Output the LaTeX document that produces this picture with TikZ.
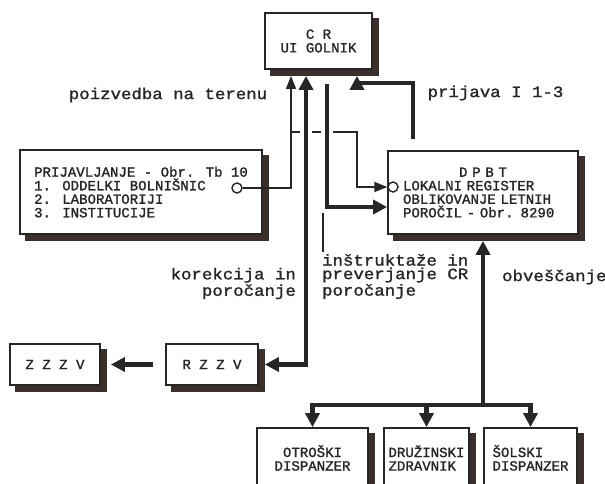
\documentclass[tikz,border=0pt]{standalone}
\usepackage{fontspec}
\usepackage{tikz}
\usetikzlibrary{arrows.meta}
\newfontfamily\boxfont[FakeBold=1.4]{Liberation Mono}
\newfontfamily\lblfont[FakeStretch=1.1,FakeBold=1.4]{Liberation Mono}
\definecolor{ink}{HTML}{262626}
\definecolor{shade}{HTML}{3A2F2A}

\begin{document}
\begin{tikzpicture}[
  box/.style={draw=ink, line width=1pt, fill=white, inner sep=2pt, text=ink,
              font=\boxfont\fontsize{8}{7.7}\selectfont},
  boxshade/.style={draw=shade, line width=1.2mm},
  lbl/.style={font=\lblfont\fontsize{9}{7.7}\selectfont, inner sep=1pt, text=ink},
  port/.style={circle, draw=ink, line width=0.8pt, fill=white,
               minimum size=2mm, inner sep=0pt},
  thn/.style={draw=ink, line width=0.8pt},
  tip/.style={thn, -{Triangle[length=2.6mm,width=2mm]}},
  thk/.style={draw=ink, line width=2.6pt, -{Triangle[length=2.8mm,width=2.8mm]}},
  gap/.style={preaction={draw=white, line width=2.4mm, arrows=-}},
  sh/.style={shorten >=1.2mm}
]
  \useasboundingbox (0,0) rectangle (12.1,-9.68);
  % zgornji del
  \node[box, minimum width=2.14cm, minimum height=1.12cm, align=center]
    (cr) at (6.37,-0.82) {C R\\UI GOLNIK};
  \node[box, minimum width=4.84cm, minimum height=1.68cm, align=left]
    (prij) at (2.82,-3.84) {PRIJAVLJANJE - Obr. Tb 10\\1. ODDELKI BOLNIŠNIC\\2. LABORATORIJI\\3. INSTITUCIJE};
  \node[box, minimum width=3.80cm, minimum height=1.66cm, text width=3.2cm, align=left]
    (dpbt) at (9.66,-3.85) {\hfil D P B T\hfil\\LOKALNI REGISTER\\OBLIKOVANJE LETNIH\\POROČIL - Obr. 8290};
  % spodnji del
  \node[box, minimum width=1.84cm, minimum height=0.82cm] (rzzv) at (4.24,-7.29) {R Z Z V};
  \node[box, minimum width=1.80cm, minimum height=0.82cm] (zzzv) at (1.10,-7.29) {Z Z Z V};
  \node[box, minimum width=2.22cm, minimum height=1.20cm, align=left]
    (otr) at (6.25,-9.16) {\hphantom{D}OTROŠKI\\DISPANZER};
  \node[box, minimum width=1.70cm, minimum height=1.20cm, align=left]
    (dru) at (8.53,-9.16) {DRUŽINSKI\\ZDRAVNIK};
  \node[box, minimum width=1.86cm, minimum height=1.20cm, align=left]
    (sol) at (10.61,-9.16) {ŠOLSKI\\DISPANZER};
  % sence
  \draw[boxshade] ([shift={(0.06,-0.12)}]cr.north east) |- ([shift={(0.12,-0.06)}]cr.south west);
  \draw[boxshade] ([shift={(0.06,-0.12)}]prij.north east) |- ([shift={(0.12,-0.06)}]prij.south west);
  \draw[boxshade] ([shift={(0.06,-0.12)}]dpbt.north east) |- ([shift={(0.12,-0.06)}]dpbt.south west);
  \draw[boxshade] ([shift={(0.06,-0.12)}]rzzv.north east) |- ([shift={(0.12,-0.06)}]rzzv.south west);
  \draw[boxshade] ([shift={(0.06,-0.12)}]zzzv.north east) |- ([shift={(0.12,-0.06)}]zzzv.south west);
  \draw[boxshade] ([shift={(0.06,-0.12)}]otr.north east) |- ([shift={(0.12,-0.06)}]otr.south west);
  \draw[boxshade] ([shift={(0.06,-0.12)}]dru.north east) |- ([shift={(0.12,-0.06)}]dru.south west);
  \draw[boxshade] ([shift={(0.06,-0.12)}]sol.north east) |- ([shift={(0.12,-0.06)}]sol.south west);
  \node[port] (pc) at (4.74,-3.76) {};
  \node[port] (dc) at (7.86,-3.74) {};
  % tocke za lomljenje
  \coordinate (q1) at (5.82,-2.64);
  \coordinate (q2) at (7.14,-2.64);
  \coordinate (k1) at (6.12,-7.29);
  \coordinate (k2) at (6.54,-4.14);
  \coordinate (k3) at (8.26,-1.66);
  \coordinate (k4) at (7.14,-1.66);
  \coordinate (j) at (9.66,-8.10);
  \coordinate (m1) at (6.46,-4.26);
  % oznake
  \node[lbl] (poiz) at (3.36,-1.90) {poizvedba na terenu};
  \node[lbl] (prja) at (9.91,-1.86) {prijava I 1-3};
  \node[lbl, anchor=east, align=right] (kor) at (5.96,-5.67) {korekcija in\\poročanje};
  \node[lbl, anchor=west, align=left] (ins) at (6.40,-5.53) {inštruktaže in\\preverjanje CR\\poročanje};
  \node[lbl, anchor=west] (obv) at (10.0,-5.54) {obveščanje};
  % tanke povezave
  \draw[tip, sh] (pc) -| (q1) -- (q1 |- cr.south);
  \draw[tip] (q1) -- (q2) |- (dc);
  \draw[thn] (m1) -- (m1 |- ins.north);
  % debele povezave
  \draw[thk, gap, {Triangle[length=2.8mm,width=2.8mm]}-{Triangle[length=2.8mm,width=2.8mm]},
        shorten <=1.2mm, sh] (cr.south -| k1) -- (k1) -- (rzzv.east);
  \draw[thk, gap, shorten <=2.8mm] (cr.south -| k2) -- (k2) -- (k2 -| dpbt.west);
  \draw[thk, shorten <=2.2mm, sh] (dpbt.north -| k3) -- (k3) -- (k4) -- (k4 |- cr.south);
  \draw[thk, shorten <=2.4mm, shorten >=2mm] (rzzv) -- (zzzv);
  \draw[thk, sh] (j) -- (dpbt.south);
  \draw[thk] (j) -| (otr.north);
  \draw[thk] (j) -| (sol.north);
  \draw[thk] (dru.north |- j) -- (dru.north);
\end{tikzpicture}
\end{document}
